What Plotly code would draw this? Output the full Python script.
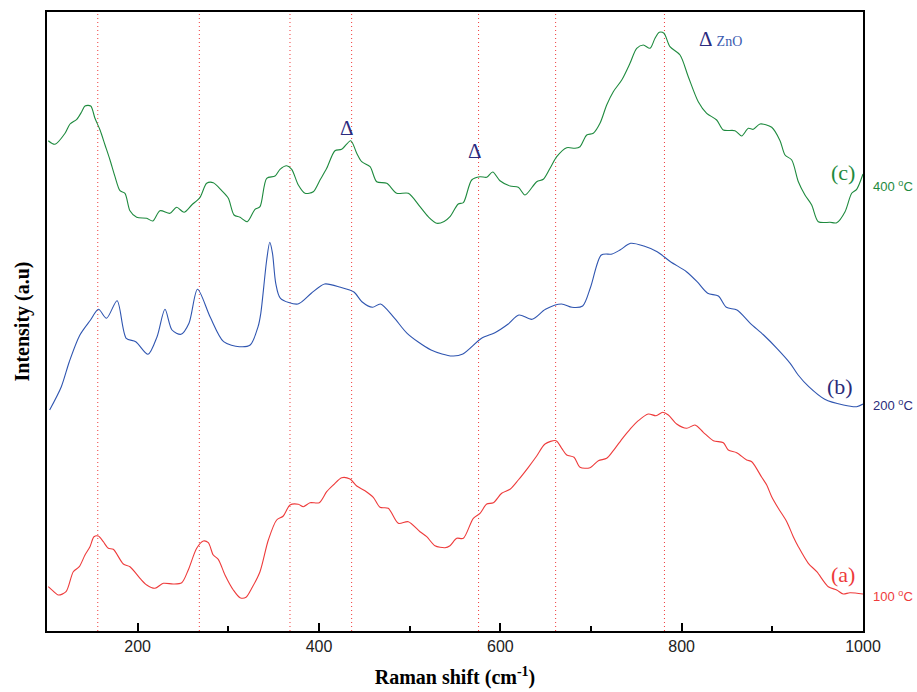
import plotly.graph_objects as go

# ---- data (Raman shift in cm^-1, intensity in arbitrary units) ----
x_c = [101.4,108.8,119.9,125.4,132.8,138.3,141.9,148.2,152.9,158.5,164,169.5,175,180.5,186,191.5,198.9,210,216.6,224.6,
       235.7,243,251.1,259.6,268.8,276.1,283.4,292.7,300,306.3,312.9,320.9,329.4,334.9,342.3,351.5,357,364.4,369.9,377.2,
       384.6,393.7,401.1,408.5,417.6,425,435,441.6,447.1,456.3,463.6,474.7,485.7,498.5,511.4,520.5,529.8,538,
       544.5,553.6,559.2,568.4,577.6,585,591.6,599.6,610.7,619.8,627.2,640.1,647.4,654.8,662.2,673.2,682.4,687.9,695.3,
       702.5,709.9,717.3,724.6,733.9,743,750.4,757.7,765.1,770.6,775.3,780.5,787.1,798.2,807.3,818.3,827.6,838.6,845.9,
       858.8,866.2,873.5,879,886.4,899.3,908.5,914,921.4,928.7,936,943.4,950.7,963.6,971,980.2,987.5,993,1000]
y_c = [490.3,486.7,497.7,507,511.7,519.3,525,525,512.7,501,486,471,454.3,440.3,437.7,420.3,413.7,412.7,410,420.3,
       417.7,423.7,418.7,426,433.7,447.7,448.3,440.3,432.7,416,413.7,409.3,421.7,424.3,452.7,455,461.7,465.3,461.7,446,
       437.7,439.3,451,462.7,480.3,481.7,490.3,477.7,469.3,464.3,449.3,447.7,437.7,437.7,424.3,414.3,407.7,409.5,
       414.3,427,428.3,451,454.3,453.7,459,450.3,445,443.7,436,449.3,451.7,462.7,474.3,483.3,482.7,484.3,496,
       497.7,507.7,526,539.3,551,567.7,582.7,586,582.7,592.7,598.7,597.7,584.3,576,554.3,529.3,517.7,511,501,
       500.3,495,502.7,501.7,507,503.7,490.3,476,471,449.3,436,426,409.3,408.7,408.3,419.3,437.7,441.7,457]

x_b = [102.9,115.8,124.6,136.3,148,156.8,165.6,177.3,187.4,197.9,211.4,221.4,230.1,237.9,247.8,256.6,266,280.1,294.8,312.3,
       324.1,332.8,335.8,342.3,345.7,348.7,352.3,357.5,376.8,391.5,406.2,423.8,438.5,447.3,459,467.8,482.5,497.2,523.6,547,
       558.7,579.3,594,608.7,620.5,635.1,649.8,667.4,679,690.8,699.7,711.4,723.2,732,743.7,758.3,773,787.7,805.3,817,
       828.7,840.5,849.3,861,875.7,890.4,905,919.7,928.5,940.2,957.8,978.4,993,1000]
y_b = [221,244.3,269.3,296,311,321.7,312.7,330.3,292.7,289.3,276.7,294.3,321.7,301,296.7,307.7,341.7,313.7,289.3,284.3,
       286,304.3,317.7,371,388.7,377.7,347.7,332.7,327,337.7,347,343.7,339,329.3,323.7,327,313.7,297.7,281,275,
       277,292.7,298.3,307,316,311.7,321.7,327,323.7,325,344.3,376,377,381,387.7,385,379.3,369.3,359.3,349.3,
       337.7,335,323.7,321,307.7,296,282.7,267.7,256,244.3,231.7,226,224.3,227]

x_a = [101.4,106.3,112.5,121,129,135.6,141.9,147.4,151.8,156.6,162.1,167.6,173.1,184.2,191.5,202.6,210,219.1,228.3,239.3,
       248.6,255.8,265.1,272.4,277.9,283.4,288.9,296.3,305.5,312.9,319.5,325.8,334.9,344.1,353.3,360.6,368,377.2,382.7,390.1,
       400.3,408.5,415.8,425,434.2,441.6,450.7,459.9,467.3,476.4,487.5,498.5,511.4,518.8,527.9,539,
       544.5,551.9,559.2,570.2,577.6,585,592.3,601.5,610.7,619.8,630.9,640.1,649.3,661.4,667.7,673.2,681.3,687.9,698.9,
       708.1,717.3,724.6,735.6,743,752.2,763.2,771.7,779.1,785.3,794.5,805.5,814.7,823.9,834.9,846,851.4,860.7,871.7,
       877.3,888.3,893.8,899.3,906.6,915.9,923.1,928.7,939.7,949,961.7,971,978.2,985.6,1000]
y_a = [44.3,40.3,36,39.3,59.3,64.3,76,84.3,94.3,95,89.3,82.7,81.7,67,64.3,52.7,46,42.7,47.7,47,
       48.3,61,82.7,90,88.3,76,71.7,56,41,33.3,33.7,42.7,59.3,91,111,115,126,126.7,124.3,128.3,
       128.3,139.3,146,153.3,152,145,140.3,133.7,123.7,122.7,107.7,109.3,99.3,94.3,85.3,83.3,
       85.3,92.7,92.7,112.7,117.7,127,128.3,137.7,141.7,151,163.7,175,187,190.3,182.7,176,173.7,163.7,163.3,
       170.3,172.7,180.3,193.7,201.7,210.3,217,215.3,218.7,216,207,202.7,206,198.7,190.3,188.3,181,178.3,171,
       169.3,153.7,146,134.3,122.7,109.3,94.3,84.3,67.7,59.3,44.3,41,37,38.3,37]

ref_lines = [156, 268, 368, 436, 576, 661, 781]
x_ticks = [200, 400, 600, 800, 1000]

series = [
    (x_c, y_c, "#1e8a3e", "(c)", 978, 459, "400 <sup>o</sup>C", 445),
    (x_b, y_b, "#2f55b0", "(b)", 975, 245, "200 <sup>o</sup>C", 226),
    (x_a, y_a, "#ee3b3b", "(a)", 978, 57, "100 <sup>o</sup>C", 35),
]
label_colors = {"(c)": "#1e8a3e", "(b)": "#2b2b7a", "(a)": "#ee3b3b"}
temp_colors = {"(c)": "#1e8a3e", "(b)": "#2b2b7a", "(a)": "#ee3b3b"}

fig = go.Figure()
for xs, ys, col, lab, lx, ly, temp, ty in series:
    fig.add_trace(go.Scatter(x=xs, y=ys, mode="lines",
                             line=dict(color=col, width=1.1, shape="spline", smoothing=0.8),
                             showlegend=False))

shapes = []
for xv in ref_lines:
    shapes.append(dict(type="line", xref="x", yref="paper", x0=xv, x1=xv, y0=0, y1=1,
                       line=dict(color="#f03a3a", width=1, dash="1px,3px"), layer="below"))

annotations = []
for xs, ys, col, lab, lx, ly, temp, ty in series:
    annotations.append(dict(x=lx, y=ly, xref="x", yref="y", text=lab, showarrow=False,
                            font=dict(family="Liberation Serif", size=22, color=label_colors[lab])))
    annotations.append(dict(x=1.0, y=ty, xref="paper", yref="y", text=temp, showarrow=False,
                            xanchor="left", xshift=8,
                            font=dict(family="Liberation Sans", size=13, color=temp_colors[lab])))

delta_col = "#2b2b7f"
annotations.append(dict(x=431, y=503, xref="x", yref="y", text="Δ", showarrow=False,
                        font=dict(family="Liberation Serif", size=21, color=delta_col)))
annotations.append(dict(x=572, y=480, xref="x", yref="y", text="Δ", showarrow=False,
                        font=dict(family="Liberation Serif", size=21, color=delta_col)))
annotations.append(dict(x=843, y=592, xref="x", yref="y",
                        text="Δ <span style='font-size:14px;color:#3b5bb0'>ZnO</span>", showarrow=False,
                        font=dict(family="Liberation Serif", size=21, color=delta_col)))

fig.update_layout(
    width=917, height=692,
    margin=dict(l=47, r=54, t=12, b=61, autoexpand=False),
    plot_bgcolor="white", paper_bgcolor="white",
    shapes=shapes, annotations=annotations,
    xaxis=dict(range=[100, 1000], tickvals=x_ticks, ticks="inside", ticklen=8, tickwidth=2,
               tickcolor="black", showgrid=False, zeroline=False, showline=True, linecolor="black",
               linewidth=2, mirror=True, automargin=False,
               minor=dict(tickvals=[300, 500, 700, 900], ticks="inside", ticklen=5, tickwidth=1.5,
                          tickcolor="black"),
               tickfont=dict(family="Liberation Sans", size=16, color="#222"),
               title=dict(text="<b>Raman shift (cm<sup>-1</sup>)</b>", standoff=16,
                          font=dict(family="Liberation Serif", size=20, color="black"))),
    yaxis=dict(range=[0, 619], showticklabels=False, ticks="", showgrid=False, zeroline=False,
               showline=True, linecolor="black", linewidth=2, mirror=True, automargin=False,
               title=dict(text="<b>Intensity (a.u)</b>", standoff=10,
                          font=dict(family="Liberation Serif", size=20, color="black"))),
)

fig.write_html("out.html")
